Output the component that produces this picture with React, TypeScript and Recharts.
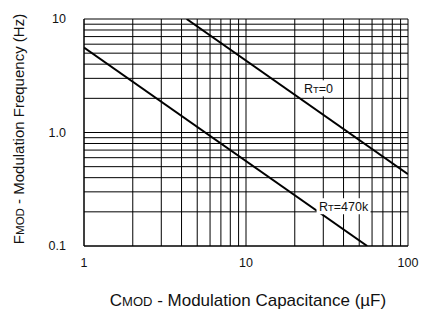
import { LineChart, Line, XAxis, YAxis, CartesianGrid, ReferenceDot } from "recharts";

const capTicks = [1, 2, 3, 4, 5, 6, 7, 8, 9, 10, 20, 30, 40, 50, 60, 70, 80, 90, 100];
const freqTicks = [0.1, 0.2, 0.3, 0.4, 0.5, 0.6, 0.7, 0.8, 0.9, 1, 2, 3, 4, 5, 6, 7, 8, 9, 10];
const capLabels: Record<number, string> = { 1: "1", 10: "10", 100: "100" };
const freqLabels: Record<number, string> = { 0.1: "0.1", 1: "1.0", 10: "10" };

// (straight lines on log-log)
const rt0Cap = [4.3, 100];
const rt0Freq = [10, 0.43];
const rt470Cap = [1, 56];
const rt470Freq = [5.6, 0.1];

const rt0Data = rt0Cap.map((c, i) => ({ cap: c, freq: rt0Freq[i] }));
const rt470Data = rt470Cap.map((c, i) => ({ cap: c, freq: rt470Freq[i] }));

const FONT = "'Liberation Sans', Arial, sans-serif";

const XTick = ({ x, y, payload }: any) => {
  const label = capLabels[payload.value];
  if (!label) return null;
  return (
    <text x={x} y={y} dy="0.71em" textAnchor="middle" fontSize={12.5} fontFamily={FONT} fill="#111">
      {label}
    </text>
  );
};

const YTick = ({ x, y, payload }: any) => {
  const label = freqLabels[payload.value];
  if (!label) return null;
  return (
    <text x={x} y={y} dy="0.355em" textAnchor="end" fontSize={12.5} fontFamily={FONT} fill="#111">
      {label}
    </text>
  );
};

const curveLabel = (main: string, sub: string, rest: string, w: number) => (props: any) => {
  const { cx, cy } = props;
  return (
    <g>
      <rect x={cx - w / 2} y={cy - 8} width={w} height={16} fill="#fff" />
      <text x={cx} y={cy} dy="0.355em" textAnchor="middle" fontSize={12.5} fontFamily={FONT} fill="#111">
        {main}
        <tspan fontSize={9.5}>{sub}</tspan>
        {rest}
      </text>
    </g>
  );
};

export default function App() {
  return (
    <div style={{ position: "absolute", left: 0, top: 0, width: 428, height: 312, background: "#fff" }}>
      <LineChart width={428} height={312} margin={{ top: 19, right: 20, bottom: 0, left: 0 }}>
        <CartesianGrid stroke="#000" strokeWidth={1} />
        <XAxis
          dataKey="cap"
          type="number"
          scale="log"
          domain={[1, 100]}
          ticks={capTicks}
          interval={0}
          allowDataOverflow
          height={66}
          tickSize={0}
          tickMargin={12}
          tick={<XTick />}
          axisLine={{ stroke: "#000" }}
          label={{
            content: ({ viewBox }: any) => (
              <text x={viewBox.x + viewBox.width / 2 + 2} y={306} textAnchor="middle" fontSize={17} fontFamily={FONT} fill="#111">
                C<tspan fontSize={13}>MOD</tspan> - Modulation Capacitance (µF)
              </text>
            ),
          }}
        />
        <YAxis
          dataKey="freq"
          type="number"
          scale="log"
          domain={[0.1, 10]}
          ticks={freqTicks}
          interval={0}
          allowDataOverflow
          width={84}
          tickSize={0}
          tickMargin={18}
          tick={<YTick />}
          axisLine={{ stroke: "#000" }}
          label={{
            content: () => {
              const cy = 129;
              return (
                <text x={19} y={cy} dy="0.355em" textAnchor="middle" fontSize={15} fontFamily={FONT} fill="#111" transform={`rotate(-90 19 ${cy})`}>
                  F<tspan fontSize={11.5}>MOD</tspan> - Modulation Frequency (Hz)
                </text>
              );
            },
          }}
        />
        <Line data={rt0Data} dataKey="freq" stroke="#000" strokeWidth={2} dot={false} isAnimationActive={false} />
        <Line data={rt470Data} dataKey="freq" stroke="#000" strokeWidth={2} dot={false} isAnimationActive={false} />
        <ReferenceDot x={28} y={2.45} r={0} shape={curveLabel("R", "T", "=0", 32)} />
        <ReferenceDot x={40} y={0.224} r={0} shape={curveLabel("R", "T", "=470k", 54)} />
      </LineChart>
    </div>
  );
}
